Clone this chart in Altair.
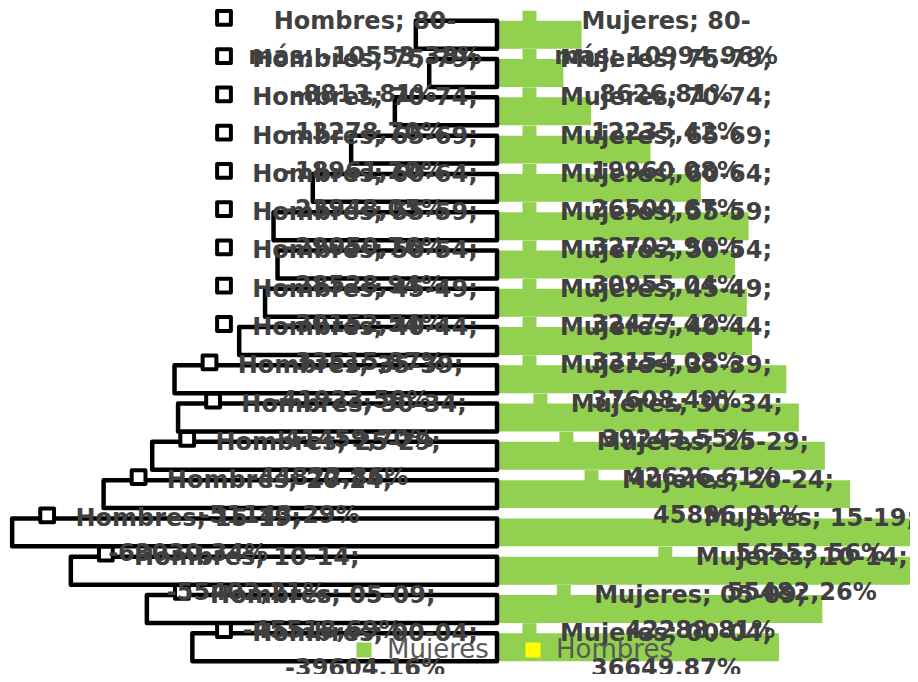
import altair as alt
import pandas as pd

# ---- data ----
grupos = ["80-más", "75-79", "70-74", "65-69", "60-64", "55-59", "50-54", "45-49",
          "40-44", "35-39", "30-34", "25-29", "20-24", "15-19", "10-14", "05-09", "00-04"]
hombres = [-10553.38, -8813.81, -13278.70, -18961.20, -23948.05, -29050.76, -28528.94,
           -30152.54, -33515.87, -41923.58, -41459.70, -44822.86, -51143.29, -63030.34,
           -55402.21, -45518.69, -39604.16]
mujeres = [10994.96, 8626.81, 12235.42, 19960.08, 26500.67, 32702.96, 30955.04,
           32477.42, 33154.08, 37608.40, 39243.55, 42626.61, 45896.91, 56553.56,
           55482.26, 42288.81, 36649.87]
series = ["Mujeres", "Hombres"]
colores = ["#92D050", "#FFFF00"]

UPP = 130  # data units per pixel of the x scale


def fmt(v):
    return f"{v:.2f}".replace(".", ",") + "%"


def etiqueta(s, g, v):
    if g.endswith("-más"):
        return f"{s}; {g[:-3]}\nmás; {fmt(v)}"
    return f"{s}; {g};\n{fmt(v)}"


hdf = pd.DataFrame({
    "grupo": grupos,
    "valor": hombres,
    "sexo": "Hombres",
    "etiqueta": [etiqueta("Hombres", g, v) for g, v in zip(grupos, hombres)],
})
mdf = pd.DataFrame({
    "grupo": grupos,
    "valor": mujeres,
    "sexo": "Mujeres",
    "etiqueta": [etiqueta("Mujeres", g, v) for g, v in zip(grupos, mujeres)],
})

xscale = alt.Scale(domain=[-489 * UPP, 413 * UPP], nice=False, zero=False)
yscale = alt.Scale(paddingInner=0.27, paddingOuter=0.335)
Y = alt.Y("grupo:N", sort=grupos, scale=yscale, axis=None)

base_m = alt.Chart(mdf)
base_h = alt.Chart(hdf)

bar_m = base_m.mark_bar(clip=True).encode(
    x=alt.X("valor:Q", scale=xscale, axis=None),
    x2=alt.datum(0),
    y=Y,
    color=alt.Color(
        "sexo:N",
        scale=alt.Scale(domain=series, range=colores),
        legend=alt.Legend(
            orient="none", legendX=343, legendY=629, direction="horizontal",
            title=None, symbolType="square", symbolSize=225, symbolStrokeWidth=0,
            labelFont="DejaVu Sans", labelFontSize=26, labelColor="#595959",
            labelOffset=10, columnPadding=31, padding=0, labelLimit=0,
        ),
    ),
)

bar_h = base_h.mark_bar(fill="white", stroke="black", strokeWidth=4.5,
                        strokeJoin="round").encode(
    x=alt.X("valor:Q", scale=xscale, axis=None),
    x2=alt.datum(0),
    y=Y,
)

# label anchors (data-labels with legend keys, as in the original)
h_lab = base_h.transform_calculate(
    key=f"min(datum.valor + {26 * UPP}, {-282 * UPP})"
)
m_lab = base_m.transform_calculate(
    key=f"max(datum.valor - {266 * UPP}, {25 * UPP})"
)

key_h = h_lab.mark_square(size=190, fill="white", stroke="black", strokeWidth=4,
                          opacity=1, strokeJoin="round", xOffset=9, yOffset=-17).encode(
    x=alt.X("key:Q", scale=xscale, axis=None), y=Y)
key_m = m_lab.mark_square(size=196, color="#92D050", opacity=1,
                          xOffset=7.5, yOffset=-17).encode(
    x=alt.X("key:Q", scale=xscale, axis=None), y=Y)

txt_style = dict(font="DejaVu Sans", fontWeight="bold", fontSize=24, color="#404040",
                 align="center", baseline="alphabetic", dy=-6, lineBreak="\n",
                 lineHeight=35)
txt_h = h_lab.mark_text(dx=150, **txt_style).encode(
    x=alt.X("key:Q", scale=xscale, axis=None), y=Y, text="etiqueta:N")
txt_m = m_lab.mark_text(dx=144, **txt_style).encode(
    x=alt.X("key:Q", scale=xscale, axis=None), y=Y, text="etiqueta:N")

chart = alt.layer(bar_m, bar_h, key_h, key_m, txt_h, txt_m).properties(
    width=902, height=666, padding=0,
    autosize=alt.AutoSizeParams(type="none"),
    background="white",
).configure_view(stroke=None)

chart.save("out.html", embed_options={"renderer": "svg", "actions": False})
